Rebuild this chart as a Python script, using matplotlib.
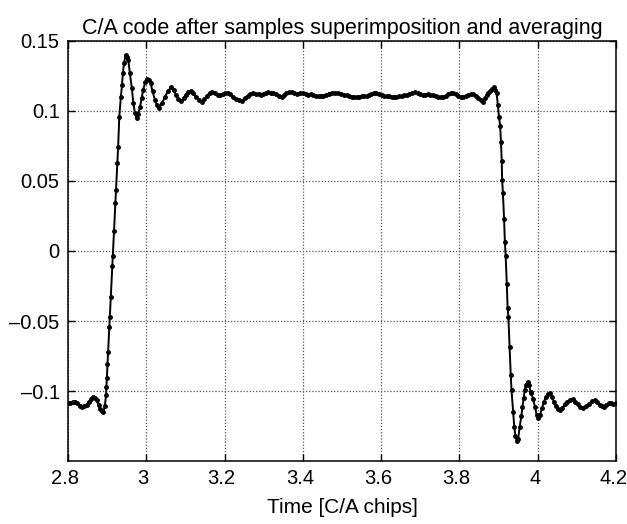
import matplotlib
matplotlib.use("Agg")
import matplotlib.pyplot as plt
import matplotlib.ticker as plticker
import matplotlib.transforms as mtransforms

plt.rcParams['font.family'] = ['Liberation Sans', 'DejaVu Sans']

# samples (time in chips, amplitude)
t = [2.800, 2.806, 2.812, 2.818, 2.824, 2.830, 2.835, 2.841, 2.848, 2.853,
     2.859, 2.865, 2.869, 2.873, 2.878, 2.882, 2.886, 2.890, 2.894, 2.897,
     2.898, 2.899, 2.9008, 2.9024, 2.9055, 2.9068, 2.9092, 2.9131, 2.914, 2.9175,
     2.921, 2.9226, 2.926, 2.928, 2.931, 2.935, 2.938, 2.940, 2.943, 2.947,
     2.951, 2.954, 2.958, 2.963, 2.967, 2.971, 2.975, 2.979, 2.984, 2.988,
     2.992, 2.997, 3.003, 3.007, 3.011, 3.016, 3.022, 3.027, 3.032, 3.040,
     3.048, 3.055, 3.063, 3.070, 3.076, 3.082, 3.088, 3.095, 3.101, 3.107,
     3.113, 3.120, 3.127, 3.134, 3.141, 3.148, 3.155, 3.162, 3.169, 3.176,
     3.182, 3.188, 3.195, 3.201, 3.208, 3.214, 3.222, 3.229, 3.237, 3.244,
     3.251, 3.259, 3.266, 3.273, 3.280, 3.287, 3.293, 3.299, 3.306, 3.312,
     3.318, 3.324, 3.331, 3.338, 3.346, 3.352, 3.358, 3.365, 3.371, 3.378,
     3.386, 3.393, 3.401, 3.407, 3.414, 3.420, 3.427, 3.433, 3.440, 3.446,
     3.452, 3.459, 3.466, 3.474, 3.482, 3.489, 3.497, 3.504, 3.512, 3.518,
     3.525, 3.531, 3.537, 3.544, 3.550, 3.556, 3.563, 3.569, 3.575, 3.582,
     3.588, 3.595, 3.601, 3.607, 3.614, 3.620, 3.627, 3.633, 3.639, 3.646,
     3.652, 3.658, 3.665, 3.672, 3.679, 3.686, 3.693, 3.699, 3.706, 3.712,
     3.719, 3.726, 3.733, 3.740, 3.746, 3.752, 3.759, 3.765, 3.772, 3.778,
     3.784, 3.791, 3.797, 3.804, 3.810, 3.816, 3.823, 3.829, 3.835, 3.842,
     3.848, 3.855, 3.861, 3.866, 3.870, 3.873, 3.878, 3.883, 3.888, 3.892,
     3.895, 3.898, 3.901, 3.904, 3.906, 3.908, 3.909, 3.911, 3.914, 3.916,
     3.918, 3.921, 3.923, 3.925, 3.928, 3.931, 3.933, 3.937, 3.940, 3.943,
     3.946, 3.950, 3.954, 3.958, 3.961, 3.964, 3.967, 3.970, 3.974, 3.978,
     3.982, 3.984, 3.988, 3.993, 3.997, 4.001, 4.006, 4.011, 4.016, 4.021,
     4.026, 4.031, 4.036, 4.041, 4.046, 4.051, 4.057, 4.063, 4.070, 4.076,
     4.082, 4.089, 4.095, 4.102, 4.109, 4.116, 4.123, 4.131, 4.139, 4.146,
     4.152, 4.158, 4.164, 4.169, 4.175, 4.181, 4.187, 4.193, 4.199]

amp = [-0.1088, -0.1085, -0.1080, -0.1076, -0.1088, -0.1105, -0.1112, -0.1106, -0.1100, -0.1080,
       -0.1055, -0.1041, -0.1050, -0.1064, -0.1100, -0.1131, -0.1145, -0.1148, -0.1110, -0.1030,
       -0.0974, -0.0910, -0.0810, -0.0720, -0.0545, -0.0469, -0.0330, -0.0107, -0.0036, 0.0143,
       0.0345, 0.0436, 0.0627, 0.0745, 0.0959, 0.1102, 0.1186, 0.1269, 0.1341, 0.1400,
       0.1385, 0.1364, 0.1269, 0.1162, 0.1055, 0.0985, 0.0948, 0.0975, 0.1031, 0.1090,
       0.1150, 0.1205, 0.1226, 0.1218, 0.1198, 0.1140, 0.1079, 0.1040, 0.1019, 0.1055,
       0.1102, 0.1140, 0.1169, 0.1148, 0.1114, 0.1088, 0.1071, 0.1090, 0.1115, 0.1138,
       0.1145, 0.1125, 0.1098, 0.1075, 0.1066, 0.1085, 0.1110, 0.1130, 0.1138, 0.1128,
       0.1115, 0.1112, 0.1118, 0.1125, 0.1130, 0.1120, 0.1100, 0.1085, 0.1076, 0.1074,
       0.1090, 0.1110, 0.1122, 0.1126, 0.1118, 0.1124, 0.1116, 0.1121, 0.1128, 0.1133,
       0.1125, 0.1131, 0.1120, 0.1105, 0.1098, 0.1112, 0.1128, 0.1134, 0.1138, 0.1130,
       0.1122, 0.1130, 0.1126, 0.1120, 0.1116, 0.1118, 0.1114, 0.1110, 0.1104, 0.1108,
       0.1107, 0.1116, 0.1124, 0.1130, 0.1131, 0.1126, 0.1120, 0.1116, 0.1114, 0.1108,
       0.1102, 0.1100, 0.1098, 0.1102, 0.1106, 0.1104, 0.1107, 0.1116, 0.1124, 0.1130,
       0.1131, 0.1122, 0.1112, 0.1108, 0.1107, 0.1104, 0.1100, 0.1102, 0.1102, 0.1104,
       0.1108, 0.1112, 0.1114, 0.1122, 0.1132, 0.1138, 0.1130, 0.1122, 0.1116, 0.1114,
       0.1118, 0.1116, 0.1114, 0.1108, 0.1102, 0.1100, 0.1098, 0.1108, 0.1118, 0.1126,
       0.1131, 0.1120, 0.1108, 0.1100, 0.1098, 0.1106, 0.1114, 0.1120, 0.1121, 0.1110,
       0.1092, 0.1076, 0.1066, 0.1090, 0.1112, 0.1126, 0.1142, 0.1158, 0.1169, 0.1150,
       0.1126, 0.1040, 0.0960, 0.0893, 0.0781, 0.0645, 0.0507, 0.0417, 0.0229, 0.0066,
       -0.0036, -0.0236, -0.0409, -0.0469, -0.0684, -0.0886, -0.0993, -0.1148, -0.1255, -0.1320,
       -0.1360, -0.1340, -0.1255, -0.1180, -0.1112, -0.1050, -0.0993, -0.0955, -0.0934, -0.0960,
       -0.1010, -0.1016, -0.1060, -0.1112, -0.1170, -0.1195, -0.1170, -0.1120, -0.1075, -0.1040,
       -0.1022, -0.1016, -0.1040, -0.1075, -0.1105, -0.1128, -0.1136, -0.1120, -0.1095, -0.1075,
       -0.1062, -0.1060, -0.1075, -0.1095, -0.1115, -0.1124, -0.1110, -0.1090, -0.1070, -0.1064,
       -0.1080, -0.1098, -0.1108, -0.1112, -0.1100, -0.1088, -0.1086, -0.1090, -0.1084]

x_ticks = [2.8, 3.0, 3.2, 3.4, 3.6, 3.8, 4.0, 4.2]
y_ticks = [-0.1, -0.05, 0, 0.05, 0.1, 0.15]

fig = plt.figure(figsize=(6.27, 5.24), dpi=100)
ax = fig.add_axes([0.1085, 0.1202, 0.874, 0.8016])

ax.plot(t, amp, color='k', linewidth=1.4, marker='.', markersize=5)

ax.set_xlim(2.8, 4.2)
ax.set_ylim(-0.15, 0.15)
ax.set_xticks(x_ticks)
ax.set_yticks(y_ticks)
fmt = plticker.FuncFormatter(lambda v, p: '{:g}'.format(round(v, 3)).replace('-', '\u2013'))
ax.xaxis.set_major_formatter(fmt)
ax.yaxis.set_major_formatter(fmt)

ax.grid(True, which='major', linestyle=(0, (1, 1.5)), color='#555555', linewidth=0.9)
ax.tick_params(direction='in', length=5, width=1, top=True, right=True, labelsize=14.5, pad=6)
for s in ax.spines.values():
    s.set_linewidth(1.1)

# nudge x tick labels a little left, as in the reference
shift = mtransforms.ScaledTranslation(-3 / 100, 0, fig.dpi_scale_trans)
for lbl in ax.get_xticklabels():
    lbl.set_transform(lbl.get_transform() + shift)

ax.set_title('C/A code after samples superimposition and averaging', fontsize=15.5, pad=5)
ax.set_xlabel('Time [C/A chips]', fontsize=15, labelpad=7)

fig.savefig('out.png', dpi=100)
